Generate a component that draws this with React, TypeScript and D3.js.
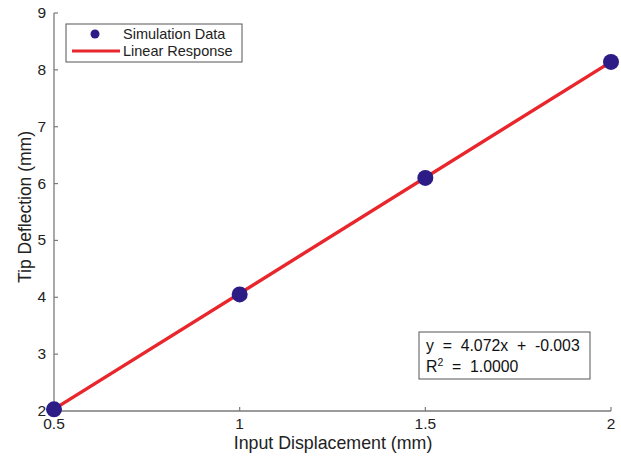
import React from "react";
import * as d3 from "d3";

const xData = [0.5, 1, 1.5, 2];
const yData = [2.03, 4.05, 6.1, 8.14];
const slope = 4.072;
const intercept = -0.003;
const xTicks = [0.5, 1, 1.5, 2];
const yTicks = [2, 3, 4, 5, 6, 7, 8, 9];
const legendLabels = ["Simulation Data", "Linear Response"];
const xLabel = "Input Displacement (mm)";
const yLabel = "Tip Deflection (mm)";

const W = 621;
const H = 458;
const left = 54, right = 611, top = 13, bottom = 411;
const font = "Liberation Sans, Arial, sans-serif";

export default function App() {
  const x = d3.scaleLinear().domain([0.5, 2]).range([left, right]);
  const y = d3.scaleLinear().domain([2, 9]).range([bottom, top]);
  const fitX = [0.5, 2];
  const line = d3
    .line<number>()
    .x((d) => x(d))
    .y((d) => y(slope * d + intercept));
  const axisColor = "#7a7a7a";
  const dotColor = "#2d1b86";
  const red = "#e8262b";
  return (
    <svg
      width={W}
      height={H}
      style={{ position: "absolute", left: 0, top: 0, background: "#fff" }}
      fontFamily={font}
    >
      {/* axes */}
      <line x1={left} x2={left} y1={top} y2={bottom} stroke={axisColor} strokeWidth={1.3} />
      <line x1={left} x2={right} y1={bottom} y2={bottom} stroke={axisColor} strokeWidth={1.3} />
      {yTicks.map((t) => (
        <g key={"y" + t}>
          <line x1={left} x2={left + 4} y1={y(t)} y2={y(t)} stroke={axisColor} strokeWidth={1.2} />
          <text x={left - 8} y={y(t) + 5} textAnchor="end" fontSize={15.5} fill="#222">
            {t}
          </text>
        </g>
      ))}
      {xTicks.map((t) => (
        <g key={"x" + t}>
          <line x1={x(t)} x2={x(t)} y1={bottom} y2={bottom - 4} stroke={axisColor} strokeWidth={1.2} />
          <text x={x(t)} y={bottom + 18} textAnchor="middle" fontSize={15.5} fill="#222">
            {t}
          </text>
        </g>
      ))}
      <text x={333} y={449} textAnchor="middle" fontSize={17.8} fill="#222">
        {xLabel}
      </text>
      <text
        transform={`translate(31, 207) rotate(-90)`}
        textAnchor="middle"
        fontSize={17.5}
        fill="#222"
      >
        {yLabel}
      </text>
      {/* fit line */}
      <path d={line(fitX) || ""} fill="none" stroke={red} strokeWidth={3.4} />
      {/* points */}
      {xData.map((d, i) => (
        <circle key={i} cx={x(d)} cy={y(yData[i])} r={8} fill={dotColor} />
      ))}
      {/* legend */}
      <rect x={66} y={24} width={176} height={38} fill="#fff" stroke="#555" strokeWidth={1} />
      <circle cx={95} cy={34} r={4.5} fill={dotColor} />
      <line x1={72} x2={120} y1={51} y2={51} stroke={red} strokeWidth={3} />
      <text x={123} y={39} fontSize={14.5} fill="#222">{legendLabels[0]}</text>
      <text x={123} y={56} fontSize={14.5} fill="#222">{legendLabels[1]}</text>
      {/* annotation */}
      <rect x={419} y={332} width={171} height={47} fill="#fff" stroke="#555" strokeWidth={1} />
      <text x={426} y={351} fontSize={15.8} fill="#111" style={{ whiteSpace: "pre" }}>
        {`y  =  ${slope.toFixed(3)}x  +  ${intercept.toFixed(3)}`}
      </text>
      <text x={426} y={372} fontSize={15.8} fill="#111" style={{ whiteSpace: "pre" }}>
        R<tspan dy={-6} fontSize={10.5}>2</tspan>
        <tspan dy={6}>{"  =  1.0000"}</tspan>
      </text>
    </svg>
  );
}
